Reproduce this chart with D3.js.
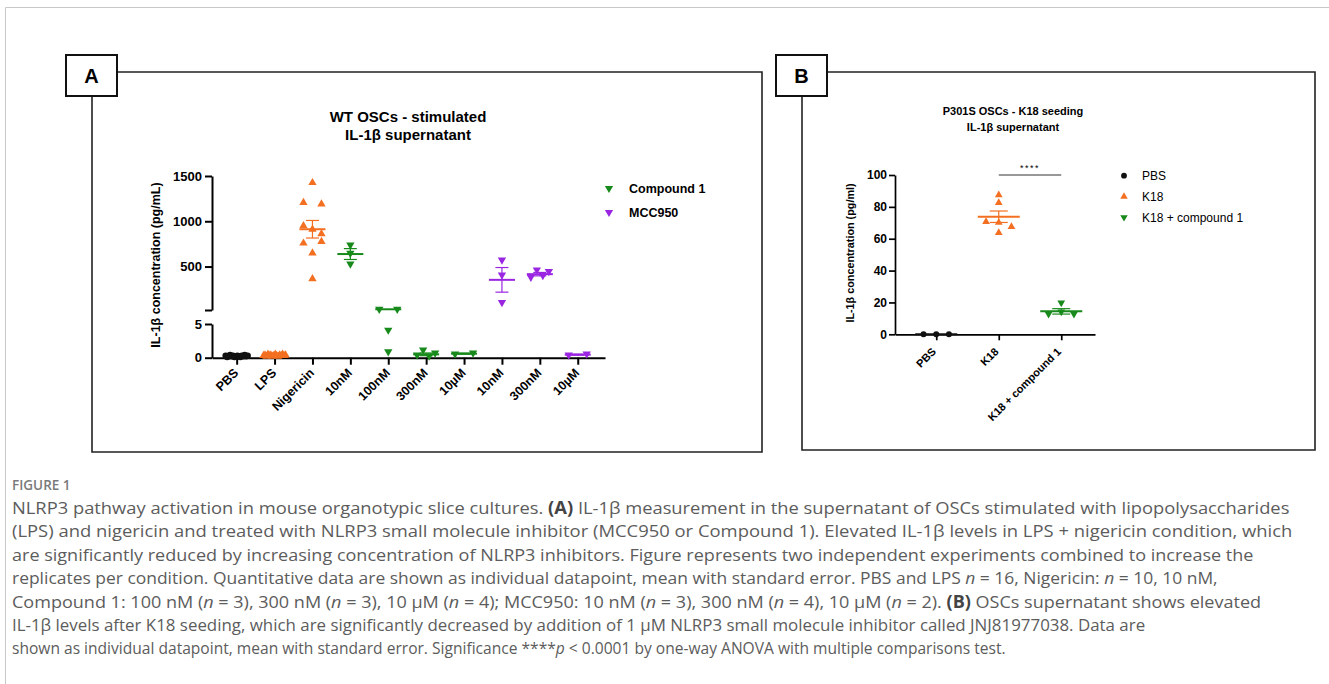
<!DOCTYPE html>
<html>
<head>
<meta charset="utf-8">
<script src="https://cdn.jsdelivr.net/npm/d3@7"></script>
<style>
body { margin: 0; background: #fff; }
svg { display: block; font-family: "Liberation Sans", Arial, sans-serif; }
</style>
</head>
<body>
<script>
const width = 1329
const height = 684

// ---- panel A : WT OSCs, IL-1b supernatant
const groupsA = ["PBS", "LPS", "Nigericin", "10nM", "100nM", "300nM", "10µM", "10nM", "300nM", "10µM"]
const seriesA = ["pbs", "lps", "lps", "cpd", "cpd", "cpd", "cpd", "mcc", "mcc", "mcc"]
const valuesA = [
    [0.3, 0.1, 0.2, 0.4, 0.2, 0.3, 0.1, 0.2, 0.3, 0.2, 0.1, 0.3, 0.2, 0.4, 0.2, 0.3],
    [0.3, 0.4, 0.2, 0.5, 0.3, 0.4, 0.2, 0.3, 0.5, 0.3, 0.2, 0.4, 0.3, 0.5, 0.3, 0.4],
    [1426, 1206, 1191, 949, 912, 861, 758, 776, 648, 364],
    [739, 648, 530],
    [28, 28, 4.1, 0.9],
    [0.4, 1.15, 0.25, 0.7],
    [0.55, 0.7],
    [574, 408, 103],
    [383, 464, 401, 445],
    [0.4, 0.55]
]
const meansA = [0.2, 0.3, 912, 638, 28, 0.5, 0.6, 353, 416, 0.45]
const semsA = [0.03, 0.03, 97, 60, 0, 0.2, 0.08, 136, 19, 0.08]
const legendA = [["Compound 1", "cpd"], ["MCC950", "mcc"]]
const ticksHiA = [20, 500, 1000, 1500]
const ticksLoA = [0, 5]

// ---- panel B : P301S OSCs, K18 seeding
const groupsB = ["PBS", "K18", "K18 + compound 1"]
const seriesB = ["pbs", "lps", "cpd"]
const valuesB = [
    [0, 0, 0],
    [87.4, 82.6, 70.7, 70.1, 67.5, 63.8],
    [19.8, 12.7, 14.2, 12.7]
]
const meansB = [0, 73.8, 14.4]
const semsB = [0, 3.6, 1.7]
const legendB = [["PBS", "pbs"], ["K18", "lps"], ["K18 + compound 1", "cpd"]]
const ticksB = [0, 20, 40, 60, 80, 100]

const colors = {pbs: "#111", lps: "#f36f21", cpd: "#178a1b", mcc: "#9b26e2"}
const shapes = {pbs: "circle", lps: "up", cpd: "down", mcc: "down"}

const svg = d3.select("body").append("svg")
    .attr("width", width)
    .attr("height", height)
    .attr("viewBox", [0, 0, width, height])

// page border (top + left)
svg.append("path")
    .attr("d", `M5.5,${height} V7.5 H${width}`)
    .attr("fill", "none")
    .attr("stroke", "#c8c8c8")

function frame(left, right, top, bottom, label) {
    const bx0 = left - 26, bx1 = left + 25
    svg.append("path")
        .attr("d", `M${bx1},${top} H${right} V${bottom} H${left} V96`)
        .attr("fill", "none")
        .attr("stroke", "#222")
        .attr("stroke-width", 1.6)
    svg.append("rect")
        .attr("x", bx0).attr("y", 55)
        .attr("width", bx1 - bx0).attr("height", 41)
        .attr("fill", "#fff")
        .attr("stroke", "#111")
        .attr("stroke-width", 2)
    svg.append("text")
        .attr("x", (bx0 + bx1) / 2).attr("y", 83)
        .attr("text-anchor", "middle")
        .attr("font-size", 20).attr("font-weight", "bold")
        .text(label)
}
frame(92, 762, 72, 452, "A")
frame(802, 1315, 72, 450, "B")

function marker(sel, s, size) {
    if (shapes[s] === "circle") {
        sel.attr("d", d3.symbol(d3.symbolCircle, size * 1.1)())
    } else {
        sel.attr("d", d3.symbol(d3.symbolTriangle, size)())
    }
    sel.attr("fill", colors[s])
}
function markerTransform(s, x, y) {
    return `translate(${x},${y})` + (shapes[s] === "down" ? " rotate(180)" : "")
}

// spread points that sit at about the same height, like the prism scatter
function layout(vals, yf, spread) {
    const pts = vals.map((v, i) => ({v, i, py: yf(v)}))
    const sorted = pts.slice().sort((a, b) => a.py - b.py)
    const rows = []
    sorted.forEach(p => {
        const last = rows[rows.length - 1]
        if (last && p.py - last[last.length - 1].py < 5) last.push(p)
        else rows.push([p])
    })
    rows.forEach(r => {
        r.sort((a, b) => a.i - b.i)
        const n = r.length, w = spread(n)
        r.forEach((p, k) => p.dx = n === 1 ? 0 : -w / 2 + k * w / (n - 1))
    })
    return pts
}

function drawGroups(g, x, yf, groups, series, values, means, sems, opt) {
    groups.forEach((name, gi) => {
        const s = series[gi]
        const cx = x(gi)
        const c = colors[s]
        const gg = g.append("g")
        // mean + sem
        const m = means[gi], e = sems[gi]
        if (e > 0) {
            gg.append("line")
                .attr("x1", cx).attr("x2", cx)
                .attr("y1", yf(m - e)).attr("y2", yf(m + e))
                .attr("stroke", c).attr("stroke-width", 1.2)
            ;[m - e, m + e].forEach(v => gg.append("line")
                .attr("x1", cx - opt.cap).attr("x2", cx + opt.cap)
                .attr("y1", yf(v)).attr("y2", yf(v))
                .attr("stroke", c).attr("stroke-width", 1.2))
        }
        const pts = layout(values[gi], yf, opt.spread)
        gg.selectAll("path")
            .data(pts)
            .join("path")
            .call(sel => marker(sel, s, opt.size))
            .attr("transform", d => markerTransform(s, cx + d.dx, d.py))
        gg.append("line")
            .attr("x1", cx - opt.mean).attr("x2", cx + opt.mean)
            .attr("y1", yf(m)).attr("y2", yf(m))
            .attr("stroke", c).attr("stroke-width", 2)
    })
}

function styleAxis(g, sw, fs) {
    g.selectAll(".domain").attr("stroke", "#000").attr("stroke-width", sw)
    g.selectAll(".tick line").attr("stroke", "#000").attr("stroke-width", sw)
    g.selectAll("text").attr("fill", "#000").attr("font-size", fs)
        .attr("font-weight", "bold").attr("font-family", "Liberation Sans, Arial, sans-serif")
}

// ================= panel A
const axisXA = 212, axisYA = 357.7
const xA = d3.scalePoint()
    .domain(d3.range(groupsA.length))
    .range([axisXA, 605])
    .padding(0.685)
    .align(0.475)
const yHi = d3.scaleLinear().domain([20, 1500]).range([310, 176])
const yLo = d3.scaleLinear().domain([0, 5]).range([axisYA, 324])
const yA = v => v <= 5 ? yLo(v) : v >= 20 ? yHi(v) : yLo(5) + (v - 5) / 15 * (yHi(20) - yLo(5))

const gA = svg.append("g")

gA.append("text")
    .attr("x", 408).attr("y", 121.5)
    .attr("text-anchor", "middle")
    .attr("font-size", 15).attr("font-weight", "bold")
    .text("WT OSCs - stimulated")
gA.append("text")
    .attr("x", 408).attr("y", 140)
    .attr("text-anchor", "middle")
    .attr("font-size", 15).attr("font-weight", "bold")
    .text("IL-1β supernatant")

gA.append("g")
    .attr("transform", `translate(${axisXA},0)`)
    .call(d3.axisLeft(yHi).tickValues(ticksHiA).tickSize(7).tickSizeOuter(0).tickPadding(3)
        .tickFormat(d => d === 20 ? "" : d))
    .call(g => styleAxis(g, 2, 13))
gA.append("g")
    .attr("transform", `translate(${axisXA},0)`)
    .call(d3.axisLeft(yLo).tickValues(ticksLoA).tickSize(7).tickSizeOuter(0).tickPadding(3)
        .tickFormat(d3.format("d")))
    .call(g => styleAxis(g, 2, 13))

gA.append("g")
    .attr("transform", `translate(0,${axisYA})`)
    .call(d3.axisBottom(xA).tickSize(7).tickSizeOuter(0).tickFormat(i => groupsA[i]))
    .call(g => styleAxis(g, 2, 12.5))
    .call(g => g.selectAll(".tick text")
        .attr("x", 0).attr("y", 0).attr("dy", 0)
        .attr("text-anchor", "end")
        .attr("transform", "translate(2,16) rotate(-45)"))

gA.append("text")
    .attr("transform", "translate(160,265) rotate(-90)")
    .attr("text-anchor", "middle")
    .attr("font-size", 12.5).attr("font-weight", "bold")
    .text("IL-1β concentration (pg/mL)")

drawGroups(gA.append("g"), xA, yA, groupsA, seriesA, valuesA, meansA, semsA, {
    size: 30, cap: 6.5, mean: 13,
    spread: n => n > 8 ? 22 : 18
})

legendA.forEach(([label, s], i) => {
    const ly = 188.3 + i * 24
    gA.append("path").call(sel => marker(sel, s, 30))
        .attr("transform", markerTransform(s, 609, ly))
    gA.append("text")
        .attr("x", 629).attr("y", ly + 4.5)
        .attr("font-size", 12.5).attr("font-weight", "bold")
        .text(label)
})

// ================= panel B
const axisXB = 895
const xB = d3.scalePoint()
    .domain(d3.range(groupsB.length))
    .range([axisXB, 1095])
    .padding(0.6)
    .align(0.55)
const yB = d3.scaleLinear().domain([0, 100]).range([334.3, 175])

const gB = svg.append("g")
gB.append("text")
    .attr("x", 1013).attr("y", 115)
    .attr("text-anchor", "middle")
    .attr("font-size", 11).attr("font-weight", "bold")
    .text("P301S OSCs - K18 seeding")
gB.append("text")
    .attr("x", 1013).attr("y", 131)
    .attr("text-anchor", "middle")
    .attr("font-size", 11).attr("font-weight", "bold")
    .text("IL-1β supernatant")

gB.append("g")
    .attr("transform", `translate(${axisXB},0)`)
    .call(d3.axisLeft(yB).tickValues(ticksB).tickSize(6).tickSizeOuter(0).tickPadding(2))
    .call(g => styleAxis(g, 1.7, 12))

gB.append("g")
    .attr("transform", `translate(0,${yB(0)})`)
    .call(d3.axisBottom(xB).tickSize(6).tickSizeOuter(0).tickFormat(i => groupsB[i]))
    .call(g => styleAxis(g, 1.7, 11))
    .call(g => g.selectAll(".tick text")
        .attr("x", 0).attr("y", 0).attr("dy", 0)
        .attr("text-anchor", "end")
        .attr("transform", "translate(0,18) rotate(-45)"))

gB.append("text")
    .attr("transform", "translate(854,253) rotate(-90)")
    .attr("text-anchor", "middle")
    .attr("font-size", 10.8).attr("font-weight", "bold")
    .text("IL-1β concentration (pg/ml)")

drawGroups(gB.append("g"), xB, yB, groupsB, seriesB, valuesB, meansB, semsB, {
    size: 26, cap: 9, mean: 21,
    spread: n => (n - 1) * 12.7
})

// significance bar K18 vs K18 + compound 1
gB.append("line")
    .attr("x1", xB(1)).attr("x2", xB(2))
    .attr("y1", yB(100)).attr("y2", yB(100))
    .attr("stroke", "#333").attr("stroke-width", 1)
gB.append("text")
    .attr("x", (xB(1) + xB(2)) / 2).attr("y", yB(100) - 4)
    .attr("text-anchor", "middle")
    .attr("font-size", 9).attr("letter-spacing", 1.5)
    .text("****")

legendB.forEach(([label, s], i) => {
    const ly = 175.7 + i * 20.8
    gB.append("path").call(sel => marker(sel, s, 24))
        .attr("transform", markerTransform(s, 1124, ly))
    gB.append("text")
        .attr("x", 1142).attr("y", ly + 4.3)
        .attr("font-size", 12)
        .text(label)
})

// ================= caption
const captionLines = [
    [["NLRP3 pathway activation in mouse organotypic slice cultures. "], ["(A)", "b"], [" IL-1β measurement in the supernatant of OSCs stimulated with lipopolysaccharides"]],
    [["(LPS) and nigericin and treated with NLRP3 small molecule inhibitor (MCC950 or Compound 1). Elevated IL-1β levels in LPS + nigericin condition, which"]],
    [["are significantly reduced by increasing concentration of NLRP3 inhibitors. Figure represents two independent experiments combined to increase the"]],
    [["replicates per condition. Quantitative data are shown as individual datapoint, mean with standard error. PBS and LPS "], ["n", "i"], [" = 16, Nigericin: "], ["n", "i"], [" = 10, 10 nM,"]],
    [["Compound 1: 100 nM ("], ["n", "i"], [" = 3), 300 nM ("], ["n", "i"], [" = 3), 10 µM ("], ["n", "i"], [" = 4); MCC950: 10 nM ("], ["n", "i"], [" = 3), 300 nM ("], ["n", "i"], [" = 4), 10 µM ("], ["n", "i"], [" = 2). "], ["(B)", "b"], [" OSCs supernatant shows elevated"]],
    [["IL-1β levels after K18 seeding, which are significantly decreased by addition of 1 µM NLRP3 small molecule inhibitor called JNJ81977038. Data are"]],
    [["shown as individual datapoint, mean with standard error. Significance ****"], ["p", "i"], [" < 0.0001 by one-way ANOVA with multiple comparisons test."]]
]
const captionWidths = [1278, 1281, 1242, 1206, 1250, 1134, 994]

svg.append("text")
    .attr("x", 12).attr("y", 490)
    .attr("font-family", "Open Sans, sans-serif")
    .attr("font-size", 13.5).attr("font-weight", 600)
    .attr("fill", "#7a7a7a")
    .text("FIGURE 1")

captionLines.forEach((parts, li) => {
    const y = 514 + li * 23.4
    const t = svg.append("text")
        .attr("x", 0).attr("y", 0)
        .attr("font-family", "Open Sans, sans-serif")
        .attr("font-size", 17)
        .attr("fill", "#5c5c5c")
    parts.forEach(([str, k]) => {
        const ts = t.append("tspan").text(str)
        if (k === "b") ts.attr("font-weight", "bold").attr("fill", "#444")
        if (k === "i") ts.attr("font-style", "italic")
    })
    const natural = t.node().getComputedTextLength()
    t.attr("transform", `translate(12,${y}) scale(${captionWidths[li] / natural},1)`)
})
</script>
</body>
</html>
